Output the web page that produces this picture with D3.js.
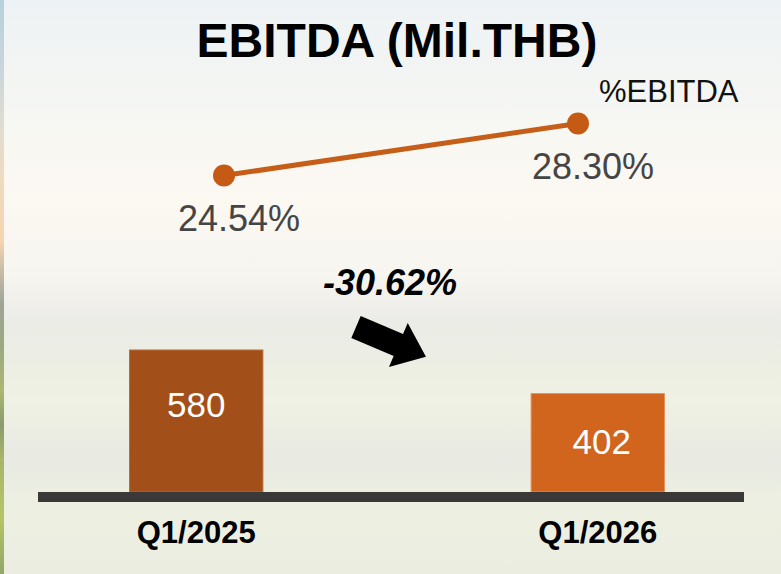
<!DOCTYPE html>
<html>
<head>
<meta charset="utf-8">
<script src="https://cdn.jsdelivr.net/npm/d3@7"></script>
<style>
  html, body { margin: 0; padding: 0; }
  body { width: 781px; height: 574px; overflow: hidden; font-family: "Liberation Sans", Arial, sans-serif; }
</style>
</head>
<body>
<div id="chart"></div>
<script>
// data
var categories = ["Q1/2025", "Q1/2026"];
var ebitda = [580, 402];
var ebitdaPct = [24.54, 28.30];
var pctLabels = ["24.54%", "28.30%"];
var changeLabel = "-30.62%";

var W = 781, H = 574;
var baseY = 492;

var svg = d3.select("#chart").append("svg")
  .attr("width", W)
  .attr("height", H);

var defs = svg.append("defs");

// soft photo-like background
var bg = defs.append("linearGradient").attr("id", "bg")
  .attr("x1", 0).attr("y1", 0).attr("x2", 0).attr("y2", 1);
[[0, "#edf2f4"], [0.22, "#f7f7f3"], [0.35, "#fcf8f2"], [0.48, "#f6f5f0"],
 [0.56, "#ebebe7"], [0.62, "#eceee4"], [0.7, "#eff1e3"], [0.8, "#e8eae3"],
 [0.88, "#edf0e1"], [1, "#eaede0"]].forEach(function(s) {
  bg.append("stop").attr("offset", s[0]).attr("stop-color", s[1]);
});

var strip = defs.append("linearGradient").attr("id", "strip")
  .attr("x1", 0).attr("y1", 0).attr("x2", 0).attr("y2", 1);
[[0, "#b8d0dd"], [0.12, "#c9d6da"], [0.22, "#e0ddd0"], [0.32, "#f0dabd"],
 [0.42, "#f6d4ae"], [0.47, "#c9bda8"], [0.53, "#a0a496"], [0.6, "#9aa882"],
 [0.68, "#aab872"], [0.74, "#8a9b6c"], [0.8, "#a6b66a"], [0.9, "#b5c566"],
 [1, "#92a866"]].forEach(function(s) {
  strip.append("stop").attr("offset", s[0]).attr("stop-color", s[1]);
});

svg.append("rect").attr("width", W).attr("height", H).attr("fill", "url(#bg)");
svg.append("rect").attr("width", 4).attr("height", H).attr("fill", "url(#strip)");

// scales
var x = d3.scaleBand()
  .domain(categories)
  .range([38, 756])
  .paddingInner(0.668)
  .paddingOuter(0.228);

var y = d3.scaleLinear()
  .domain([0, 580])
  .range([baseY, 350]);

var xLine = d3.scalePoint()
  .domain(categories)
  .range([224, 578]);

var yLine = d3.scaleLinear()
  .domain([0, 30])
  .range([515, 100]);

// title
svg.append("text")
  .attr("x", 397)
  .attr("y", 57)
  .attr("text-anchor", "middle")
  .attr("font-size", 48)
  .attr("font-weight", "bold")
  .attr("fill", "#000")
  .text("EBITDA (Mil.THB)");

// bars
var barColors = ["#a24f1a", "#d1651e"];
var barStroke = ["#b86a3a", "#e3915a"];
svg.selectAll("rect.bar")
  .data(ebitda)
  .enter().append("rect")
  .attr("class", "bar")
  .attr("x", function(d, i) { return x(categories[i]); })
  .attr("y", function(d) { return y(d); })
  .attr("width", x.bandwidth())
  .attr("height", function(d) { return baseY - y(d); })
  .attr("fill", function(d, i) { return barColors[i]; })
  .attr("stroke", function(d, i) { return barStroke[i]; })
  .attr("stroke-width", 1);

// value labels inside bars
var labelDy = [67, 60];
svg.selectAll("text.val")
  .data(ebitda)
  .enter().append("text")
  .attr("class", "val")
  .attr("x", function(d, i) { return x(categories[i]) + x.bandwidth() / 2 + (i ? 4 : 0); })
  .attr("y", function(d, i) { return y(d) + labelDy[i]; })
  .attr("text-anchor", "middle")
  .attr("font-size", 35)
  .attr("fill", "#fff")
  .text(function(d) { return d; });

// base line
svg.append("rect")
  .attr("x", 38)
  .attr("y", baseY)
  .attr("width", 706)
  .attr("height", 10)
  .attr("fill", "#3a3937");

// category labels
svg.selectAll("text.cat")
  .data(categories)
  .enter().append("text")
  .attr("class", "cat")
  .attr("x", function(d) { return x(d) + x.bandwidth() / 2; })
  .attr("y", 543)
  .attr("text-anchor", "middle")
  .attr("font-size", 31)
  .attr("font-weight", "bold")
  .attr("fill", "#000")
  .text(function(d) { return d; });

// %EBITDA line
var line = d3.line()
  .x(function(d, i) { return xLine(categories[i]); })
  .y(function(d) { return yLine(d); });

svg.append("path")
  .datum(ebitdaPct)
  .attr("fill", "none")
  .attr("stroke", "#c55e18")
  .attr("stroke-width", 5)
  .attr("d", line);

svg.selectAll("circle.pt")
  .data(ebitdaPct)
  .enter().append("circle")
  .attr("class", "pt")
  .attr("cx", function(d, i) { return xLine(categories[i]); })
  .attr("cy", function(d) { return yLine(d); })
  .attr("r", 11)
  .attr("fill", "#c55a14");

svg.selectAll("text.pct")
  .data(ebitdaPct)
  .enter().append("text")
  .attr("class", "pct")
  .attr("x", function(d, i) { return xLine(categories[i]) + 15; })
  .attr("y", function(d) { return yLine(d) + 55; })
  .attr("text-anchor", "middle")
  .attr("font-size", 36)
  .attr("fill", "#454545")
  .text(function(d, i) { return pctLabels[i]; });

// legend-like label
svg.append("text")
  .attr("x", 599)
  .attr("y", 102)
  .attr("font-size", 31)
  .attr("fill", "#111")
  .text("%EBITDA");

// change annotation
var midX = (x(categories[0]) + x(categories[1]) + x.bandwidth()) / 2;
svg.append("text")
  .attr("x", midX - 7)
  .attr("y", 295)
  .attr("text-anchor", "middle")
  .attr("font-size", 36)
  .attr("font-weight", "bold")
  .attr("font-style", "italic")
  .attr("fill", "#000")
  .text(changeLabel);

// block arrow pointing down-right
var arrowPath = "M0,-12 L46,-12 L46,-24 L76,0 L46,24 L46,12 L0,12 Z";
svg.append("path")
  .attr("d", arrowPath)
  .attr("transform", "translate(" + (midX - 41) + ",327) rotate(23)")
  .attr("fill", "#000");
</script>
</body>
</html>
